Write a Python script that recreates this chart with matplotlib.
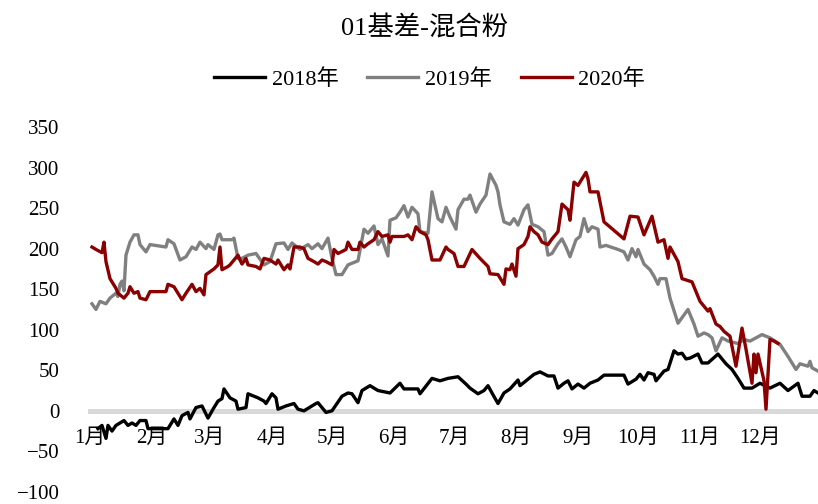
import matplotlib
matplotlib.use("Agg")
from matplotlib import pyplot as plt

plt.rcParams["font.family"] = ["Liberation Serif", "Noto Sans CJK SC", "DejaVu Sans"]

# day of year (2020 calendar) and basis values
d2018 = [4, 6, 8, 9, 11, 13, 17, 19, 21, 23, 25, 28, 29, 39, 42, 44, 46, 49, 50, 53,
         56, 59, 62, 64, 66, 67, 70, 73, 74, 78, 79, 84, 87, 88, 91, 93, 94, 98, 102, 104,
         107, 113, 114, 118, 121, 126, 129, 131, 134, 136, 140, 144, 150, 155, 157, 164, 165, 171, 175, 179,
         184, 188, 190, 194, 197, 199, 201, 204, 207, 210, 214, 215, 219, 222, 225, 229, 232, 234, 237, 239,
         241, 244, 247, 250, 254, 257, 267, 269, 273, 275, 277, 279, 282, 283, 287, 289, 292, 294, 296, 298,
         300, 304, 306, 309, 314, 318, 321, 324, 327, 331, 335, 340, 345, 349, 354, 356, 360, 362, 364]
v2018 = [-22, -18, -34, -18, -25, -18, -12, -18, -15, -18, -12, -12, -22, -22, -10, -18, -6, -2, -10, 4,
         6, -9, 4, 12, 15, 27, 16, 12, 2, 4, 21, 16, 12, 9, 21, 16, 2, 6, 9, 2,
         0, 9, 10, -2, 0, 18, 22, 21, 10, 25, 31, 25, 22, 34, 27, 27, 21, 40, 37, 40,
         42, 33, 28, 21, 25, 31, 22, 9, 22, 27, 38, 31, 39, 45, 48, 43, 43, 28, 34, 37,
         27, 33, 28, 34, 38, 44, 44, 33, 39, 45, 38, 47, 45, 37, 49, 51, 74, 70, 71, 64,
         65, 70, 59, 59, 70, 58, 51, 40, 28, 28, 34, 28, 34, 25, 34, 18, 18, 25, 22]

d2019 = [1, 3, 5, 8, 10, 13, 14, 15, 16, 17, 18, 20, 22, 24, 25, 28, 30, 38, 39, 42,
         45, 48, 49, 51, 53, 55, 58, 59, 62, 64, 65, 66, 71, 72, 74, 76, 79, 83, 87, 90,
         93, 97, 99, 101, 105, 109, 111, 114, 116, 119, 121, 123, 126, 129, 134, 137, 139, 142, 144, 146,
         149, 150, 153, 155, 157, 159, 161, 164, 165, 169, 171, 174, 176, 178, 180, 183, 184, 187, 189, 190,
         193, 195, 198, 200, 203, 204, 205, 207, 210, 212, 214, 217, 219, 221, 224, 227, 229, 231, 234, 236,
         238, 240, 243, 245, 247, 249, 251, 254, 255, 258, 264, 267, 269, 271, 273, 274, 277, 280, 282, 284,
         285, 288, 290, 294, 299, 302, 304, 307, 309, 311, 313, 316, 319, 324, 327, 330, 336, 340, 345, 349,
         353, 355, 359, 360, 361, 364]
v2019 = [132, 125, 135, 132, 139, 145, 141, 156, 160, 148, 192, 208, 217, 217, 205, 196, 205, 202, 211, 206,
         186, 190, 194, 202, 199, 208, 200, 205, 199, 217, 218, 211, 211, 213, 188, 188, 192, 194, 180, 184,
         206, 207, 199, 207, 199, 205, 200, 206, 200, 213, 188, 168, 168, 180, 185, 224, 219, 228, 205, 212,
         191, 235, 238, 245, 253, 239, 251, 243, 221, 219, 270, 237, 233, 251, 239, 224, 248, 261, 261, 266,
         245, 255, 266, 292, 278, 270, 254, 233, 230, 237, 229, 248, 254, 230, 227, 221, 192, 194, 206, 212,
         202, 190, 211, 215, 237, 221, 227, 224, 202, 204, 199, 196, 186, 200, 190, 199, 181, 174, 166, 156,
         163, 163, 139, 108, 125, 107, 92, 96, 94, 90, 74, 90, 86, 83, 88, 86, 94, 90, 82, 67,
         51, 58, 55, 61, 53, 49]

d2020 = [1, 3, 6, 7, 8, 10, 13, 14, 17, 19, 20, 22, 24, 25, 28, 30, 38, 39, 42, 44,
         46, 48, 51, 53, 55, 57, 58, 62, 64, 65, 66, 69, 70, 74, 75, 76, 78, 79, 83, 85,
         87, 90, 93, 94, 97, 99, 100, 102, 105, 107, 109, 112, 114, 116, 118, 121, 122, 124, 128, 129,
         131, 134, 135, 137, 139, 142, 144, 146, 149, 150, 151, 157, 159, 161, 163, 165, 168, 169, 171, 175,
         178, 179, 182, 184, 187, 191, 195, 199, 200, 204, 207, 208, 210, 211, 213, 214, 217, 219, 220, 222,
         224, 226, 229, 231, 234, 236, 239, 240, 242, 244, 248, 249, 250, 254, 257, 267, 270, 274, 277, 281,
         284, 287, 289, 290, 294, 296, 301, 305, 309, 310, 313, 315, 317, 320, 323, 326, 328, 331, 332, 333,
         334, 337, 338, 340, 342, 344]
v2020 = [202, 199, 195, 208, 184, 163, 151, 145, 139, 145, 153, 145, 147, 139, 137, 147, 147, 156, 153, 145,
         137, 145, 156, 147, 151, 143, 168, 175, 180, 202, 174, 178, 180, 192, 186, 181, 188, 180, 178, 175,
         188, 186, 181, 186, 174, 180, 175, 202, 202, 200, 188, 184, 181, 186, 184, 180, 199, 194, 199, 208,
         199, 199, 208, 202, 206, 211, 221, 215, 217, 208, 215, 215, 217, 211, 227, 221, 217, 211, 186, 186,
         202, 199, 194, 178, 178, 199, 188, 178, 169, 168, 156, 175, 174, 181, 166, 200, 205, 215, 227, 221,
         217, 208, 205, 212, 221, 255, 248, 235, 282, 278, 294, 286, 270, 270, 233, 212, 240, 239, 217, 240,
         208, 211, 188, 202, 184, 163, 159, 135, 123, 126, 107, 104, 98, 92, 55, 102, 76, 34, 70, 47,
         70, 37, 2, 88, 86, 83]

month_start = [0, 31, 60, 91, 121, 152, 182, 213, 244, 274, 305, 335]
month_labels = ["1月", "2月", "3月", "4月", "5月", "6月", "7月", "8月", "9月", "10月", "11月", "12月"]

fig = plt.figure(figsize=(8.18, 5.04), dpi=100)
ax = fig.add_axes([0.110, 0.024, 0.890, 0.724])

ax.plot(d2018, v2018, color="black", lw=2.4, label="2018年", zorder=3)
ax.plot(d2019, v2019, color="#808080", lw=2.4, label="2019年", zorder=3)
ax.plot(d2020, v2020, color="#8b0000", lw=2.4, label="2020年", zorder=3)

ax.set_xlim(0, 364)
ax.set_ylim(-100, 350)
ax.set_yticks(range(-100, 351, 50))
ax.set_xticks(month_start)
ax.set_xticklabels(month_labels)

# zero line doubles as the x axis
for s in ["top", "right", "left"]:
    ax.spines[s].set_visible(False)
ax.spines["bottom"].set_position(("data", 0))
ax.spines["bottom"].set_color("#d9d9d9")
ax.spines["bottom"].set_linewidth(3.6)
ax.tick_params(axis="both", length=0, labelsize=15)
ax.tick_params(axis="x", pad=13)
ax.tick_params(axis="y", pad=22)

fig.text(0.519, 0.945, "01基差-混合粉", ha="center", va="center", fontsize=19)
fig.legend(loc="center", bbox_to_anchor=(0.525, 0.843), ncol=3, frameon=False,
           fontsize=16, handlelength=2.3, handletextpad=0.3, columnspacing=1.3)

plt.savefig("out.png", dpi=100)
